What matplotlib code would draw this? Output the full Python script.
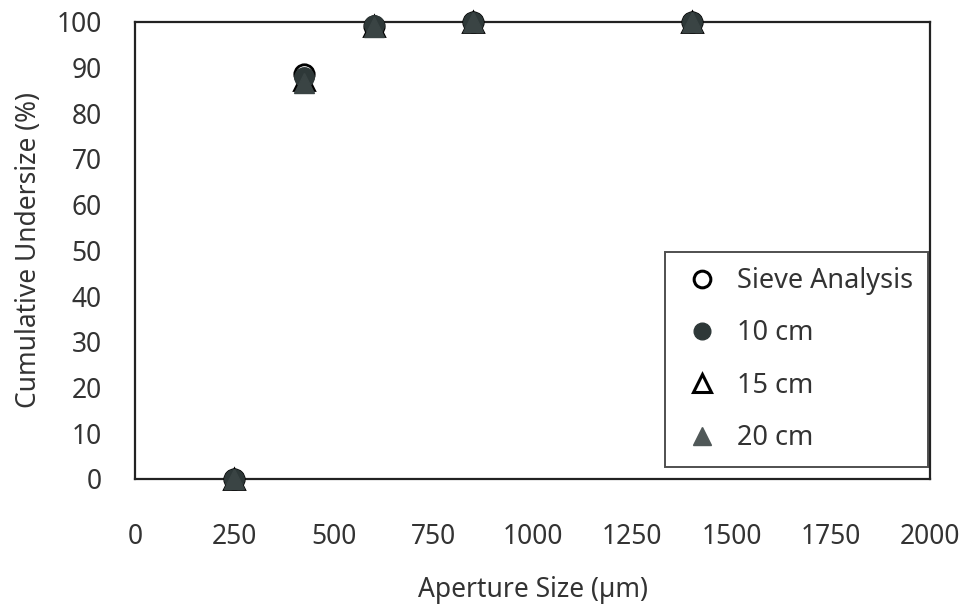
import matplotlib.pyplot as plt
from matplotlib.lines import Line2D

# aperture sizes (um) and cumulative undersize (%) per series
aperture = [250, 425, 600, 850, 1400]
sieve = [0, 88.5, 99.0, 100, 100]
cm10 = [0, 88.0, 99.2, 100, 100]
cm15 = [0, 87.3, 99.0, 100, 100]
cm20 = [0, 86.5, 98.8, 100, 100]
labels = ["Sieve Analysis", "10 cm", "15 cm", "20 cm"]

plt.rcParams["font.family"] = ["Noto Sans", "DejaVu Sans"]
plt.rcParams["font.weight"] = "light"

fig = plt.figure(figsize=(9.72, 6.04), dpi=100)
ax = fig.add_axes([0.139, 0.207, 0.818, 0.757])

dark = "#2e3838"
ax.plot(aperture, sieve, "o", ms=14, mfc="white", mec="black", mew=2,
        clip_on=False, zorder=3)
ax.plot(aperture, cm15, "^", ms=14, mfc="white", mec="black", mew=2,
        clip_on=False, zorder=4)
ax.plot(aperture, cm10, "o", ms=14, mfc=dark, mec=dark, clip_on=False, zorder=5)
ax.plot(aperture, cm20, "^", ms=14, mfc="#3a4444", mec="#3a4444",
        clip_on=False, zorder=6)

ax.set_xlim(0, 2000)
ax.set_ylim(0, 100)
ax.set_xticks(range(0, 2001, 250))
ax.set_yticks(range(0, 101, 10))
ax.tick_params(length=0, labelsize=19, colors="#333333")
ax.tick_params(axis="x", pad=32)
ax.tick_params(axis="y", pad=24)
for s in ax.spines.values():
    s.set_linewidth(1.6)
    s.set_color("#222222")

ax.set_xlabel("Aperture Size (\u00b5m)", fontsize=19, color="#333333", labelpad=18)
ax.set_ylabel("Cumulative Undersize (%)", fontsize=19, color="#333333", labelpad=10)

leg_handles = [
    Line2D([], [], ls="none", marker="o", ms=12, mfc="white", mec="black", mew=2.2),
    Line2D([], [], ls="none", marker="o", ms=12, mfc=dark, mec=dark),
    Line2D([], [], ls="none", marker="^", ms=13, mfc="white", mec="black", mew=2.2),
    Line2D([], [], ls="none", marker="^", ms=13, mfc="#505858", mec="#505858"),
]
leg = ax.legend(leg_handles, labels, loc="lower right", bbox_to_anchor=(0.9975, 0.026),
                fontsize=19.5, frameon=True, fancybox=False, edgecolor="#222222",
                handletextpad=0.5, handlelength=1.6, labelspacing=0.9,
                borderpad=0.55, borderaxespad=0, labelcolor="#333333")
leg.get_frame().set_linewidth(1.4)

fig.savefig("out.png")
